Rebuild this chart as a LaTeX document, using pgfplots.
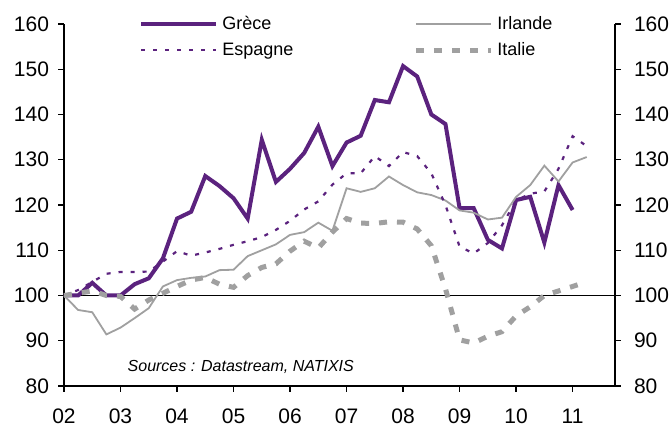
\documentclass[border=0pt]{standalone}
\usepackage{fontspec}
\setmainfont{Liberation Sans}
\usepackage{pgfplots}
\pgfplotsset{compat=1.18}

\definecolor{natpurple}{RGB}{91,34,126}
\definecolor{natgray}{RGB}{160,160,160}

% quarterly index, base 2002 Q1 = 100
\begin{document}
\begin{tikzpicture}
\useasboundingbox (-32pt,-20.5pt) rectangle (302.5pt,193pt);
\pgfplotsset{
  every axis/.append style={
    scale only axis, width=275.5pt, height=181pt,
    xmin=2002, xmax=2011.75, ymin=80, ymax=160,
    ytick={80,90,...,160},
    tick align=outside, major tick length=3pt,
    tick style={black, line width=0.6pt},
    axis line style={black, line width=0.6pt},
    /pgf/number format/assume math mode=true,
    tick label style={font=\fontsize{10.5}{12}\selectfont},
  },
}
\begin{axis}[
    axis x line*=bottom, axis y line*=left,
    xtick={2002,...,2011},
    xticklabels={02,03,04,05,06,07,08,09,10,11},
    xticklabel shift=5pt,
    yticklabel shift=1pt,
    clip=false,
    legend columns=2,
    legend cell align=left,
    legend image code/.code={\draw[#1] (0pt,0pt) -- (37.5pt,0pt);},
    legend style={draw=none, fill=none, at={(rel axis cs:0.125,1.045)}, anchor=north west,
      font=\fontsize{9}{10}\selectfont, row sep=1pt,
      /tikz/every even column/.append style={column sep=58pt}},
]
\addplot[black, line width=0.6pt, forget plot] coordinates {(2002,100) (2011.75,100)};

\addplot[natpurple, line width=2pt] coordinates {
(2002.00,100) (2002.25,100) (2002.50,102.8) (2002.75,100)
(2003.00,100) (2003.25,102.5) (2003.50,103.8) (2003.75,108.2)
(2004.00,117) (2004.25,118.5) (2004.50,126.4) (2004.75,124.2)
(2005.00,121.5) (2005.25,117) (2005.50,134.4) (2005.75,125.1)
(2006.00,128) (2006.25,131.5) (2006.50,137.3) (2006.75,128.6)
(2007.00,133.8) (2007.25,135.3) (2007.50,143.2) (2007.75,142.7)
(2008.00,150.7) (2008.25,148.4) (2008.50,140) (2008.75,137.9)
(2009.00,119.3) (2009.25,119.3) (2009.50,112.3) (2009.75,110.4)
(2010.00,121.1) (2010.25,121.8) (2010.50,111.7) (2010.75,124.4)
(2011.00,118.9)
};
\addlegendentry{Grèce}

\addplot[natgray, line width=0.9pt] coordinates {
(2002.00,100) (2002.25,96.8) (2002.50,96.3) (2002.75,91.4)
(2003.00,92.9) (2003.25,95) (2003.50,97.2) (2003.75,102)
(2004.00,103.4) (2004.25,103.9) (2004.50,104.2) (2004.75,105.6)
(2005.00,105.7) (2005.25,108.7) (2005.50,110) (2005.75,111.3)
(2006.00,113.4) (2006.25,114) (2006.50,116.1) (2006.75,114.3)
(2007.00,123.7) (2007.25,122.9) (2007.50,123.7) (2007.75,126.3)
(2008.00,124.4) (2008.25,122.8) (2008.50,122.2) (2008.75,121)
(2009.00,118.8) (2009.25,118.3) (2009.50,116.8) (2009.75,117.2)
(2010.00,121.8) (2010.25,124.4) (2010.50,128.7) (2010.75,125.2)
(2011.00,129.4) (2011.25,130.6)
};
\addlegendentry{Irlande}

\addplot[natpurple, line width=1.1pt, dash pattern=on 2pt off 4pt] coordinates {
(2002.00,100) (2002.25,101.2) (2002.50,103) (2002.75,104.8)
(2003.00,105.2) (2003.25,105.2) (2003.50,105.3) (2003.75,107.5)
(2004.00,109.8) (2004.25,108.8) (2004.50,109.5) (2004.75,110.3)
(2005.00,111.2) (2005.25,112) (2005.50,112.9) (2005.75,114.5)
(2006.00,116.5) (2006.25,119) (2006.50,120.8) (2006.75,124.5)
(2007.00,127) (2007.25,127) (2007.50,130.8) (2007.75,128.6)
(2008.00,131.7) (2008.25,130.8) (2008.50,127) (2008.75,120)
(2009.00,110.8) (2009.25,109.3) (2009.50,111.6) (2009.75,115.5)
(2010.00,121) (2010.25,122.5) (2010.50,123) (2010.75,128)
(2011.00,135.2) (2011.25,133)
};
\addlegendentry{Espagne}

\addplot[natgray, line width=2.5pt, dash pattern=on 4pt off 5pt] coordinates {
(2002.00,100) (2002.25,100.5) (2002.50,101) (2002.75,100)
(2003.00,99.8) (2003.25,97) (2003.50,99) (2003.75,100.5)
(2004.00,102) (2004.25,103.4) (2004.50,104) (2004.75,102.5)
(2005.00,101.8) (2005.25,104.4) (2005.50,106.2) (2005.75,107)
(2006.00,109.8) (2006.25,112) (2006.50,110.5) (2006.75,114)
(2007.00,117) (2007.25,116) (2007.50,115.9) (2007.75,116.3)
(2008.00,116.2) (2008.25,114.7) (2008.50,111) (2008.75,101.5)
(2009.00,90.2) (2009.25,89.5) (2009.50,91) (2009.75,92)
(2010.00,95.5) (2010.25,97.5) (2010.50,100) (2010.75,101)
(2011.00,102) (2011.25,103)
};
\addlegendentry{Italie}

\node[anchor=west, font=\itshape\fontsize{8}{10}\selectfont, inner sep=0pt]
  at (axis cs:2003.12,84.2) {Sources : Datastream, NATIXIS};
\end{axis}

\begin{axis}[
    axis x line=none, axis y line*=right,
    yticklabel shift=3pt,
]
\end{axis}
\end{tikzpicture}
\end{document}
